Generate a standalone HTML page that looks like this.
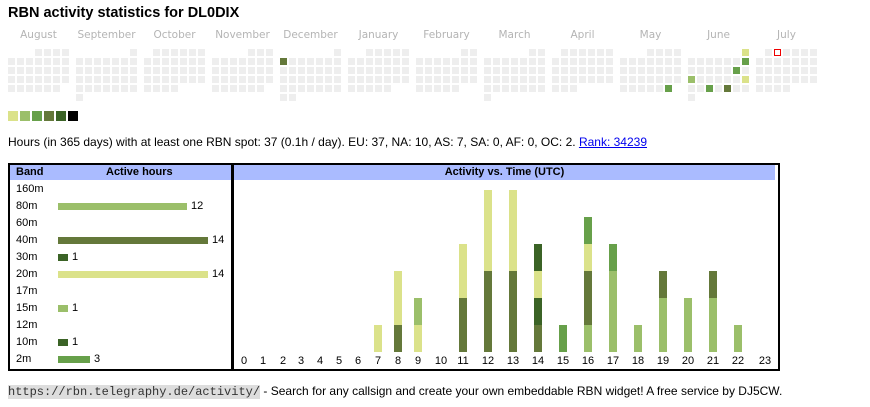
<!DOCTYPE html>
<html><head><meta charset="utf-8">
<style>
body{margin:0;width:870px;height:407px;background:#fff;position:relative;overflow:hidden;font-family:"Liberation Sans",Arial,sans-serif;color:#000}
.a{position:absolute}
.c{position:absolute;width:7px;height:7px;background:#eee}
.ml{position:absolute;top:29px;width:61px;text-align:center;font-family:"DejaVu Sans",sans-serif;font-size:10.5px;color:#b4b4b4}
.lg{position:absolute;top:111px;width:10px;height:10px}
.band{position:absolute;left:16px;font-size:11px}
.bb{position:absolute;left:58px;height:7px}
.bn{position:absolute;font-size:11px}
.hl{position:absolute;top:355px;font-size:11px;width:20px;text-align:center}
.bar{position:absolute;width:8px}
</style></head><body>
<div class="a" style="left:8px;top:5px;font-size:14.5px;font-weight:bold">RBN activity statistics for DL0DIX</div>
<div id="cal"></div>
<div class="lg" style="left:8px;background:#dbe28a"></div>
<div class="lg" style="left:20px;background:#9bbf6a"></div>
<div class="lg" style="left:32px;background:#67a04a"></div>
<div class="lg" style="left:44px;background:#64783a"></div>
<div class="lg" style="left:56px;background:#3b6326"></div>
<div class="lg" style="left:68px;background:#000"></div>
<div class="a" style="left:8px;top:135px;font-size:12px">Hours (in 365 days) with at least one RBN spot: 37 (0.1h / day). EU: 37, NA: 10, AS: 7, SA: 0, AF: 0, OC: 2. <span style="color:#00e;text-decoration:underline">Rank: 34239</span></div>

<div class="a" style="left:8px;top:163px;width:222px;height:204px;border:2px solid #000"></div>
<div class="a" style="left:10px;top:165px;width:221px;height:15px;background:#aabbff"></div>
<div class="a" style="left:16px;top:166px;font-size:11px;font-weight:bold">Band</div>
<div class="a" style="left:106px;top:166px;font-size:11px;font-weight:bold">Active hours</div>
<div class="a" style="left:231px;top:163px;width:544px;height:204px;border:2px solid #000;border-left-width:3px"></div>
<div class="a" style="left:234px;top:165px;width:541px;height:15px;background:#aabbff"></div>
<div class="a" style="left:234px;top:166px;width:541px;text-align:center;font-size:11px;font-weight:bold">Activity vs. Time (UTC)</div>
<div id="bands"></div>
<div id="hours"></div>
<div class="a" style="left:8px;top:384px;font-size:12px"><span style="font-family:'Liberation Mono',monospace;background:#ddd;color:#333">https://rbn.telegraphy.de/activity/</span> - Search for any callsign and create your own embeddable RBN widget! A free service by DJ5CW.</div>
<script>
var Y='#dbe28a',L='#9bbf6a',G='#67a04a',O='#64783a',D='#3b6326';
var h='';
var names=['August','September','October','November','December','January','February','March','April','May','June','July'];
var col={'2024-12-2':O,'2025-5-31':G,'2025-6-1':Y,'2025-6-8':G,'2025-6-14':G,'2025-6-16':L,'2025-6-22':Y,'2025-6-25':G,'2025-6-27':O};
for(var m=0;m<12;m++){
 var yr=m<5?2024:2025, mo=(m+7)%12; var bx=8+m*68;
 h+='<div class="ml" style="left:'+bx+'px">'+names[m]+'</div>';
 var first=(new Date(yr,mo,1).getDay()+6)%7, nd=new Date(yr,mo+1,0).getDate();
 for(var d=1;d<=nd;d++){var i=first+d-1,c=i%7,r=Math.floor(i/7);
  var k=yr+'-'+(mo+1)+'-'+d; var st='left:'+(bx+c*9)+'px;top:'+(49+r*9)+'px;';
  if(col[k])st+='background:'+col[k]+';';
  if(k=='2025-7-2')st+='background:#fff;border:1px solid #e00;width:5px;height:5px;';
  h+='<div class="c" style="'+st+'"></div>';}
}
document.getElementById('cal').innerHTML=h;
var bands=[['160m'],['80m',12,L],['60m'],['40m',14,O],['30m',1,D],['20m',14,Y],['17m'],['15m',1,L],['12m'],['10m',1,D],['2m',3,G]];
h='';
bands.forEach(function(b,i){var y=183+i*17;
 h+='<div class="band" style="top:'+y+'px">'+b[0]+'</div>';
 if(b[1]){var w=Math.round(b[1]*150/14); if(b[1]==1)w=10;
  h+='<div class="bb" style="top:'+(y+3)+'px;width:'+w+'px;background:'+b[2]+'"></div><div class="bn" style="top:'+y+'px;left:'+(58+w+4)+'px">'+b[1]+'</div>';}
});
document.getElementById('bands').innerHTML=h;
var cx=[244,263,283,301,320,339,358,378,398,418,441,463,488,513,538,563,588,613,638,663,688,713,738,765];
var st={7:[Y],8:[O,Y,Y],9:[Y,L],11:[O,O,Y,Y],12:[O,O,O,Y,Y,Y],13:[O,O,O,Y,Y,Y],14:[O,D,Y,D],15:[G],16:[L,O,O,Y,G],17:[L,L,L,G],18:[L],19:[L,L,O],20:[L,L],21:[L,L,O],22:[L]};
h='';
for(var i=0;i<24;i++){h+='<div class="hl" style="left:'+(cx[i]-10)+'px">'+i+'</div>';
 if(st[i])st[i].forEach(function(c,j){h+='<div class="bar" style="left:'+(cx[i]-4)+'px;top:'+(352-27*(j+1))+'px;height:27px;background:'+c+'"></div>';});}
document.getElementById('hours').innerHTML=h;
</script>
</body></html>
